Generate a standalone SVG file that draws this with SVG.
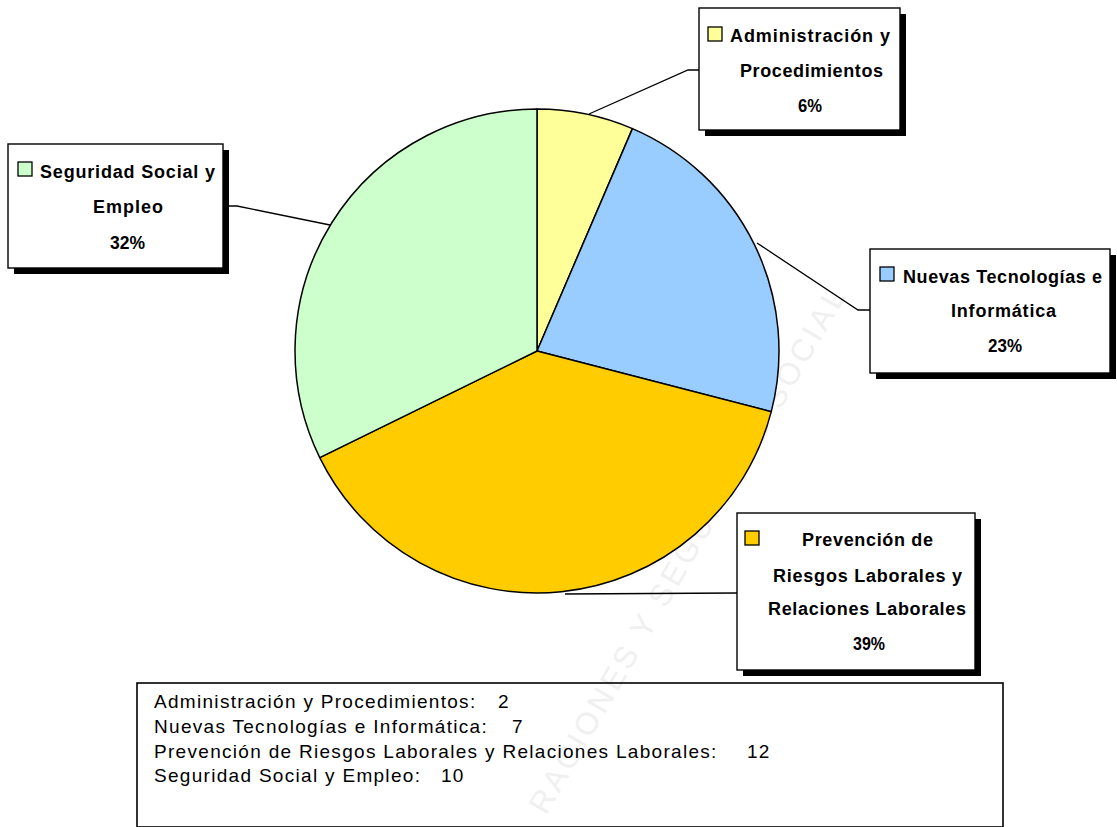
<svg xmlns="http://www.w3.org/2000/svg" width="1117" height="827" viewBox="0 0 1117 827">
  <style>
    .slice { stroke: #000; stroke-width: 1.5; stroke-linejoin: round; }
    .box { fill: #fff; stroke: #000; stroke-width: 1.4; }
    .shadow { fill: #000; }
    .lbl { font-family: "Liberation Sans", Arial, sans-serif; font-weight: bold; font-size: 18px; fill: #000; }
    .mk { stroke: #000; stroke-width: 1.3; }
    .leader { fill: none; stroke: #000; stroke-width: 1.3; }
    .tbl { font-family: "Liberation Sans", Arial, sans-serif; font-size: 19px; fill: #000; letter-spacing: 1.3px; }
    .wm { font-family: "Liberation Sans", Arial, sans-serif; font-size: 31px; fill: #f0f0f0; }
  </style>

  <rect x="0" y="0" width="1117" height="827" fill="#fff"/>

  <g id="watermark">
    <text class="wm" transform="translate(546,816) rotate(-60)" textLength="600" lengthAdjust="spacing">RACIONES Y SEGURIDAD SOCIAL</text>
  </g>

  <g id="pie">
    <path id="slice-admin" class="slice" fill="#FFFF99" d="M537,351 L537,109 A242,242 0 0 1 632.44,128.59 Z"/>
    <path id="slice-nt" class="slice" fill="#99CCFF" d="M537,351 L632.44,128.59 A242,242 0 0 1 771.27,411.66 Z"/>
    <path id="slice-prev" class="slice" fill="#FFCC00" d="M537,351 L771.27,411.66 A242,242 0 0 1 319.74,457.57 Z"/>
    <path id="slice-ss" class="slice" fill="#CCFFCC" d="M537,351 L319.74,457.57 A242,242 0 0 1 537,109 Z"/>
  </g>

  <g id="connectors">
    <polyline class="leader" points="589,114 688,70 699,70"/>
    <polyline class="leader" points="757,243 858,310 870,310"/>
    <polyline class="leader" points="330,225 237,206 223,206"/>
    <polyline class="leader" points="565,594 737,593"/>
  </g>

  <g id="label-admin">
    <rect class="shadow" x="705" y="14" width="201" height="122"/>
    <rect class="box" x="699" y="8" width="201" height="122"/>
    <rect class="mk" x="708" y="27" width="14" height="14" fill="#FFFF99"/>
    <text class="lbl" x="730" y="42" textLength="160" lengthAdjust="spacing">Administración y</text>
    <text class="lbl" x="740" y="77" textLength="143" lengthAdjust="spacing">Procedimientos</text>
    <text class="lbl" x="798" y="112" textLength="24" lengthAdjust="spacingAndGlyphs">6%</text>
  </g>

  <g id="label-ss">
    <rect class="shadow" x="14" y="150" width="215" height="124"/>
    <rect class="box" x="8" y="144" width="215" height="124"/>
    <rect class="mk" x="18" y="162" width="14" height="14" fill="#CCFFCC"/>
    <text class="lbl" x="40" y="178" textLength="175" lengthAdjust="spacing">Seguridad Social y</text>
    <text class="lbl" x="93" y="213" textLength="70" lengthAdjust="spacing">Empleo</text>
    <text class="lbl" x="110" y="249" textLength="35" lengthAdjust="spacingAndGlyphs">32%</text>
  </g>

  <g id="label-nt">
    <rect class="shadow" x="876" y="255" width="240" height="124"/>
    <rect class="box" x="870" y="249" width="240" height="124"/>
    <rect class="mk" x="880" y="267" width="14" height="14" fill="#99CCFF"/>
    <text class="lbl" x="903" y="283" textLength="199" lengthAdjust="spacing">Nuevas Tecnologías e</text>
    <text class="lbl" x="951" y="317" textLength="105" lengthAdjust="spacing">Informática</text>
    <text class="lbl" x="988" y="352" textLength="34" lengthAdjust="spacingAndGlyphs">23%</text>
  </g>

  <g id="label-prev">
    <rect class="shadow" x="743" y="519" width="238" height="157"/>
    <rect class="box" x="737" y="513" width="238" height="157"/>
    <rect class="mk" x="745" y="531" width="14" height="14" fill="#FFCC00"/>
    <text class="lbl" x="802" y="546" textLength="131" lengthAdjust="spacing">Prevención de</text>
    <text class="lbl" x="773" y="582" textLength="189" lengthAdjust="spacing">Riesgos Laborales y</text>
    <text class="lbl" x="768" y="615" textLength="198" lengthAdjust="spacing">Relaciones Laborales</text>
    <text class="lbl" x="853" y="650" textLength="32" lengthAdjust="spacingAndGlyphs">39%</text>
  </g>

  <g id="data-table">
    <rect x="137" y="683" width="866" height="144" fill="none" stroke="#000" stroke-width="1.6"/>
    <text class="tbl" x="154" y="708">Administración y Procedimientos:<tspan x="498">2</tspan></text>
    <text class="tbl" x="154" y="733">Nuevas Tecnologías e Informática:<tspan x="512">7</tspan></text>
    <text class="tbl" x="154" y="757.5">Prevención de Riesgos Laborales y Relaciones Laborales:<tspan x="747">12</tspan></text>
    <text class="tbl" x="154" y="782">Seguridad Social y Empleo:<tspan x="441">10</tspan></text>
  </g>
</svg>
